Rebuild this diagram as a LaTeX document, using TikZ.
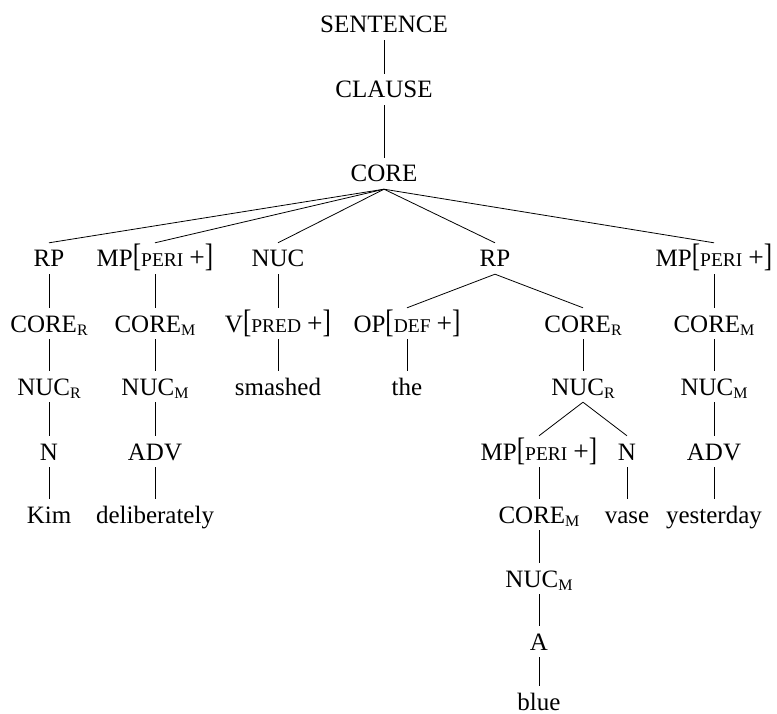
\documentclass[tikz,border=0pt]{standalone}
\usepackage{fontspec}
\setmainfont{Liberation Serif}
% reduced capitals for feature values, small subscript letters for indices
\newcommand{\fv}[1]{{\fontsize{19.5}{20}\selectfont #1}}
\newcommand{\idx}[1]{\raisebox{-3.5pt}{\fontsize{16}{16}\selectfont #1}}
% tall thin brackets around a feature value and its plus sign
\newcommand{\feat}[1]{\scalebox{1}[1.3]{[}\fv{#1}\hspace{6pt}\scalebox{1.1}{+}\scalebox{1}[1.3]{]}}
\begin{document}
\begin{tikzpicture}[x=1pt,y=-1pt,
  lbl/.style={anchor=base,inner xsep=0pt,inner ysep=7pt,text height=17pt,text depth=0pt,
    font=\fontsize{25}{26}\selectfont},
  branch/.style={line width=0.8pt}]
\useasboundingbox (0,0) rectangle (777,714);

% spine
\node[lbl] (sent)   at (384,33)  {SENTENCE};
\node[lbl] (clause) at (384,98)  {CLAUSE};
\node[lbl] (core)   at (384,182) {CORE};

% daughters of the core
\node[lbl] (rpA)  at (49,267)  {RP};
\node[lbl] (mpA)  at (155,267) {MP\feat{PERI}};
\node[lbl] (nuc)  at (278,267) {NUC};
\node[lbl] (rpB)  at (495,267) {RP};
\node[lbl] (mpB)  at (714,267) {MP\feat{PERI}};

% second level
\node[lbl] (corerA) at (49,332)  {CORE\idx{R}};
\node[lbl] (coremA) at (155,332) {CORE\idx{M}};
\node[lbl] (verb)   at (278,332) {V\feat{PRED}};
\node[lbl] (op)     at (407,332) {OP\feat{DEF}};
\node[lbl] (corerB) at (583,332) {CORE\idx{R}};
\node[lbl] (coremB) at (714,332) {CORE\idx{M}};

% third level
\node[lbl] (nucrA) at (49,395)  {NUC\idx{R}};
\node[lbl] (nucmA) at (155,395) {NUC\idx{M}};
\node[lbl] (smash) at (278,395) {smashed};
\node[lbl] (the)   at (407,395) {the};
\node[lbl] (nucrB) at (583,395) {NUC\idx{R}};
\node[lbl] (nucmB) at (714,395) {NUC\idx{M}};

% fourth level
\node[lbl] (nA)   at (49,460)  {N};
\node[lbl] (advA) at (155,460) {ADV};
\node[lbl] (mpC)  at (539,460) {MP\feat{PERI}};
\node[lbl] (nB)   at (627,460) {N};
\node[lbl] (advB) at (714,460) {ADV};

% fifth level
\node[lbl] (kim)    at (49,523)  {Kim};
\node[lbl] (delib)  at (155,523) {deliberately};
\node[lbl] (coremC) at (539,523) {CORE\idx{M}};
\node[lbl] (vase)   at (627,523) {vase};
\node[lbl] (yest)   at (714,523) {yesterday};

% the adjective inside the noun phrase
\node[lbl] (nucmC) at (539,587) {NUC\idx{M}};
\node[lbl] (adj)   at (539,650) {A};
\node[lbl] (blue)  at (539,710) {blue};

\begin{scope}[branch]
\draw (sent.south) -- (clause.north);
\draw (clause.south) -- (core.north);
\foreach \d in {rpA,mpA,nuc,rpB,mpB} \draw (core.south) -- (\d.north);
\draw (rpA.south) -- (corerA.north);
\draw (corerA.south) -- (nucrA.north);
\draw (nucrA.south) -- (nA.north);
\draw (nA.south) -- (kim.north);
\draw (mpA.south) -- (coremA.north);
\draw (coremA.south) -- (nucmA.north);
\draw (nucmA.south) -- (advA.north);
\draw (advA.south) -- (delib.north);
\draw (nuc.south) -- (verb.north);
\draw (verb.south) -- (smash.north);
\draw (rpB.south) -- (op.north);
\draw (rpB.south) -- (corerB.north);
\draw (op.south) -- (the.north);
\draw (corerB.south) -- (nucrB.north);
\draw (nucrB.south) -- (mpC.north);
\draw (nucrB.south) -- (nB.north);
\draw (mpC.south) -- (coremC.north);
\draw (coremC.south) -- (nucmC.north);
\draw (nucmC.south) -- (adj.north);
\draw (adj.south) -- (blue.north);
\draw (nB.south) -- (vase.north);
\draw (mpB.south) -- (coremB.north);
\draw (coremB.south) -- (nucmB.north);
\draw (nucmB.south) -- (advB.north);
\draw (advB.south) -- (yest.north);
\end{scope}
\end{tikzpicture}
\end{document}
